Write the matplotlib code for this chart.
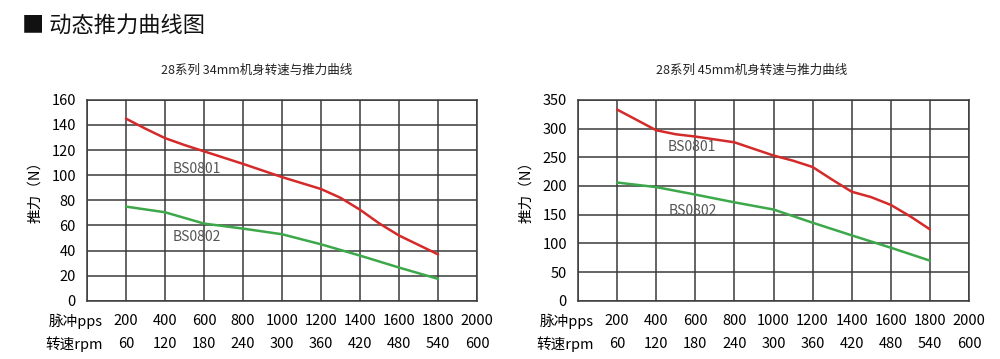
import numpy as np
import matplotlib.pyplot as plt

plt.rcParams['font.family'] = ['Noto Sans CJK SC', 'DejaVu Sans']

pps = [200, 400, 600, 800, 1000, 1200, 1400, 1600, 1800]
pps_ticks = [200, 400, 600, 800, 1000, 1200, 1400, 1600, 1800, 2000]
rpm_ticks = [60, 120, 180, 240, 300, 360, 420, 480, 540, 600]

# 34mm body
x34_bs0801 = [200, 300, 400, 500, 600, 800, 1000, 1200, 1300, 1400, 1500, 1600, 1700, 1800]
f34_bs0801 = [145, 137, 129.5, 124, 119, 109, 98.5, 89, 82, 72.5, 61.5, 52, 44.5, 37]
f34_bs0802 = [75, 70.5, 61.5, 57.5, 53, 45, 36, 26.5, 17.5]
# 45mm body
x45_bs0801 = [200, 300, 400, 500, 600, 800, 1000, 1100, 1200, 1300, 1400, 1500, 1600, 1700, 1800]
f45_bs0801 = [333, 315, 297, 290, 286, 276, 253, 244, 233, 211, 190, 180.5, 167, 147, 124.5]
f45_bs0802 = [206, 198, 185, 171.5, 159, 136, 114, 92.5, 70]

RED = '#d42a2a'
GREEN = '#3ca84a'
GRID = '#3a3a3a'

fig = plt.figure(figsize=(10, 3.59), dpi=100)
fig.text(0.022, 0.93, '■ 动态推力曲线图', fontsize=16, va='center', ha='left', color='#111111')


def draw(ax, title, title_x, ymax, ystep, x1, y1, y2, lab1, lab2):
    ax.plot(x1, y1, color=RED, lw=1.8, solid_capstyle='round')
    ax.plot(pps, y2, color=GREEN, lw=1.8, solid_capstyle='round')
    ax.set_xlim(0, 2000)
    ax.set_ylim(0, ymax)
    ax.set_xticks(np.arange(0, 2001, 200))
    ax.set_yticks(np.arange(0, ymax + 1, ystep))
    ax.set_xticklabels([''] * 11)
    ax.tick_params(length=0, labelsize=10.5, pad=8)
    ax.grid(True, color=GRID, lw=1.1)
    for s in ax.spines.values():
        s.set_color(GRID)
        s.set_linewidth(1.1)
    ax.set_axisbelow(True)
    ax.set_ylabel('推力（N）', fontsize=10.5)
    ax.yaxis.set_label_coords(-0.115, 0.56)
    ax.text(title_x, 1.145, title, transform=ax.transAxes, ha='center', va='center',
            fontsize=9, color='#222222')
    tr = ax.get_xaxis_transform()
    for p, r in zip(pps_ticks, rpm_ticks):
        ax.text(p, -0.1, str(p), transform=tr, ha='center', va='center', fontsize=10.5)
        ax.text(p, -0.215, str(r), transform=tr, ha='center', va='center', fontsize=10.5)
    ax.text(80, -0.1, '脉冲pps', transform=tr, ha='right', va='center', fontsize=10.5)
    ax.text(80, -0.215, '转速rpm', transform=tr, ha='right', va='center', fontsize=10.5)
    ax.text(lab1[0], lab1[1], 'BS0801', color='#555555', fontsize=10, va='center')
    ax.text(lab2[0], lab2[1], 'BS0802', color='#555555', fontsize=10, va='center')


ax1 = fig.add_axes([0.087, 0.162, 0.39, 0.56])
draw(ax1, '28系列 34mm机身转速与推力曲线', 0.436, 160, 20, x34_bs0801, f34_bs0801, f34_bs0802,
     (440, 105), (440, 50.5))

ax2 = fig.add_axes([0.578, 0.162, 0.391, 0.56])
draw(ax2, '28系列 45mm机身转速与推力曲线', 0.445, 350, 50, x45_bs0801, f45_bs0801, f45_bs0802,
     (460, 267), (462, 157))

fig.savefig('out.png', dpi=100)
